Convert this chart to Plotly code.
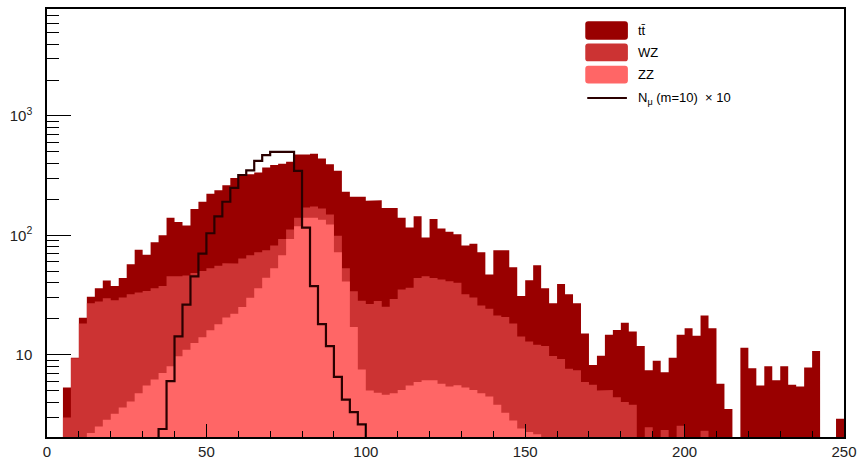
import numpy as np
import plotly.graph_objects as go

# ---------------- data ----------------
x_range = [0.0, 250.0]
bin_width = 2.5

# cumulative stack heights per 2.5-wide bin (0 .. 250)
tt_stack = [
    0, 0, 5.3, 9.4, 20.4, 30.5, 35.9, 41.7, 37.5, 43.9,
    57.1, 75.7, 68.8, 87.3, 100, 140, 129, 121, 166, 191,
    223, 238, 262, 302, 315, 325, 335, 369, 388, 398,
    413, 474, 474, 481, 440, 393, 347, 231, 210, 210,
    195, 197, 169, 169, 140, 116, 144, 96, 137, 114,
    107, 102, 82, 85, 72, 47, 75, 75, 54, 31,
    42, 56, 36, 27, 39, 32, 27, 15, 8.2, 9.8,
    14.7, 16.1, 18.5, 15.6, 11.8, 7.4, 8.9, 7.1, 9.4, 14.7,
    16.6, 14.4, 21.3, 16.6, 5.7, 3.5, 0, 11.4, 7.7, 5.5,
    8.0, 6.1, 8.0, 5.6, 5.4, 7.8, 10.7, 0, 0, 2.9,
]
wz_stack = [
    0, 0, 2.97, 9.3, 18.2, 26.9, 27.9, 29.7, 28.6, 30.1,
    32.1, 33.1, 34.1, 35.9, 37.5, 45.3, 45.3, 46.1, 48.2, 50.3,
    53, 55.6, 58.2, 58, 64, 68, 72, 75, 82, 93,
    112, 140, 171, 174, 168, 149, 99, 53, 34, 28.3,
    26.6, 28.2, 25.2, 29.2, 35.2, 36.4, 43.9, 45.3, 43.9, 42.6,
    41.2, 40, 32.1, 30.1, 25.8, 24.2, 21.3, 20.7, 18.2, 14.2,
    12.9, 12.1, 11.8, 9.75, 9.2, 7.6, 7.4, 5.9, 5.6, 5.0,
    5.05, 4.4, 4.0, 3.8, 0, 2.46, 0, 2.34, 0, 2.54,
    0, 0, 2.3, 0, 0, 0, 0, 0, 0, 0,
    0, 0, 0, 0, 0, 0, 0, 0, 0, 0,
]
zz_stack = [
    0, 0, 0, 0, 0, 2.2, 2.5, 2.85, 3.2, 3.6,
    4.05, 4.75, 5.5, 6.2, 7.0, 8.0, 9.7, 11, 12.5, 14,
    16, 18, 20.5, 22, 25, 30, 36, 44, 53, 68,
    93, 119, 140, 140, 135, 123, 72, 41, 17, 7.5,
    5.0, 4.8, 4.6, 4.75, 5.05, 5.5, 5.9, 6.1, 6.1, 5.7,
    5.4, 5.55, 5.3, 5.05, 4.75, 4.45, 3.8, 3.25, 2.8, 2.4,
    2.25, 2.15, 0, 0, 0, 0, 0, 0, 0, 0,
    0, 0, 0, 0, 0, 0, 0, 0, 0, 0,
    0, 0, 0, 0, 0, 0, 0, 0, 0, 0,
    0, 0, 0, 0, 0, 0, 0, 0, 0, 0,
]
signal_x10 = [
    0, 0, 0, 0, 0, 0, 0, 0, 0, 0,
    0, 0, 0, 0, 2.38, 6.0, 14.2, 26.2, 45.3, 70.2,
    104, 144, 191, 250, 320, 350, 420, 470, 500, 500,
    500, 347, 116, 37.5, 18, 11.8, 6.5, 4.2, 3.3, 2.6,
    0, 0, 0, 0, 0, 0, 0, 0, 0, 0,
    0, 0, 0, 0, 0, 0, 0, 0, 0, 0,
    0, 0, 0, 0, 0, 0, 0, 0, 0, 0,
    0, 0, 0, 0, 0, 0, 0, 0, 0, 0,
    0, 0, 0, 0, 0, 0, 0, 0, 0, 0,
    0, 0, 0, 0, 0, 0, 0, 0, 0, 0,
]
legend_labels = ["t\u0074\u0304", "WZ", "ZZ", "N<sub>\u03bc</sub> (m=10) \u00a0\u00d7 10"]

x_ticks = [0, 50, 100, 150, 200, 250]
x_minor = [10, 20, 30, 40, 60, 70, 80, 90, 110, 120, 130, 140,
           160, 170, 180, 190, 210, 220, 230, 240]
y_ticks = [10, 100, 1000]
y_ticktext = ["10", "10<sup>2</sup>", "10<sup>3</sup>"]
y_minor = [3, 4, 5, 6, 7, 8, 9, 20, 30, 40, 50, 60, 70, 80, 90,
           200, 300, 400, 500, 600, 700, 800, 900,
           2000, 3000, 4000, 5000, 6000, 7000]

# ---------------- style ----------------
DARK = "#990000"
MID = "#cc3333"
LIGHT = "#ff6666"
LINE = "#2a0000"
FONT = "Liberation Sans, Arial, Helvetica, sans-serif"

W, H = 864, 467
ML, MR, MT, MB = 47, 13, 7, 20
PW, PH = W - ML - MR, H - MT - MB
FLOOR = 1e-3  # below the visible log range; clipped away

edges = np.arange(x_range[0], x_range[1] + bin_width / 2, bin_width)


def step_outline(vals, closed):
    v = np.array(vals, dtype=float)
    v = np.where(v > 0, v, FLOOR)
    xs, ys = [edges[0]], [FLOOR]
    for i, val in enumerate(v):
        xs += [edges[i], edges[i + 1]]
        ys += [val, val]
    xs.append(edges[-1])
    ys.append(FLOOR)
    if closed:
        xs.append(edges[0])
        ys.append(FLOOR)
    return xs, ys


fig = go.Figure()
for vals, col in [(tt_stack, DARK), (wz_stack, MID), (zz_stack, LIGHT)]:
    xs, ys = step_outline(vals, True)
    fig.add_trace(go.Scatter(
        x=xs, y=ys, mode="lines", fill="toself", fillcolor=col,
        line=dict(width=0, color=col), showlegend=False, hoverinfo="skip"))

xs, ys = step_outline(signal_x10, False)
fig.add_trace(go.Scatter(
    x=xs, y=ys, mode="lines", line=dict(color=LINE, width=2.2),
    showlegend=False, hoverinfo="skip"))


def px2paper(px, py):
    return (px - ML) / PW, (H - MB - py) / PH


def rounded_rect(x0p, y0p, x1p, y1p, r=3):
    a0, b0 = px2paper(x0p, y1p)
    a1, b1 = px2paper(x1p, y0p)
    rx, ry = r / PW, r / PH
    return (f"M {a0+rx},{b0} L {a1-rx},{b0} Q {a1},{b0} {a1},{b0+ry} "
            f"L {a1},{b1-ry} Q {a1},{b1} {a1-rx},{b1} L {a0+rx},{b1} "
            f"Q {a0},{b1} {a0},{b1-ry} L {a0},{b0+ry} Q {a0},{b0} {a0+rx},{b0} Z")


shapes = []
annotations = []
box_x0, box_x1 = 590, 633
rows = [(19.5, 38.5), (42.5, 60.8), (65.3, 83.5)]
for (y0, y1), col, lab in zip(rows, [DARK, MID, LIGHT], legend_labels[:3]):
    shapes.append(dict(type="path", xref="paper", yref="paper",
                       path=rounded_rect(box_x0, y0, box_x1, y1),
                       fillcolor=col, line=dict(width=0)))
    ax, ay = px2paper(641, (y0 + y1) / 2)
    annotations.append(dict(xref="paper", yref="paper", x=ax, y=ay, text=lab,
                            xanchor="left", yanchor="middle", showarrow=False,
                            font=dict(size=13, color="black", family=FONT)))
lx0, ly = px2paper(592, 98.5)
lx1, _ = px2paper(632, 98.5)
shapes.append(dict(type="line", xref="paper", yref="paper", x0=lx0, x1=lx1,
                   y0=ly, y1=ly, line=dict(color=LINE, width=2)))
ax, ay = px2paper(641, 98.5)
annotations.append(dict(xref="paper", yref="paper", x=ax, y=ay, text=legend_labels[3],
                        xanchor="left", yanchor="middle", showarrow=False,
                        font=dict(size=13, color="black", family=FONT)))

fig.update_layout(
    width=W, height=H, margin=dict(l=ML, r=MR, t=MT, b=MB),
    plot_bgcolor="white", paper_bgcolor="white",
    font=dict(family=FONT, size=15, color="#222"),
    shapes=shapes, annotations=annotations, showlegend=False,
)
fig.update_xaxes(
    range=x_range, tickvals=x_ticks, ticks="inside", ticklen=13, tickwidth=1,
    tickcolor="black", showline=True, linecolor="black", linewidth=1.5,
    mirror=True, showgrid=False, zeroline=False,
    minor=dict(tickvals=x_minor, ticks="inside", ticklen=6, tickcolor="black",
               tickwidth=1, showgrid=False),
)
fig.update_yaxes(
    type="log", range=[np.log10(2.04), np.log10(7870)],
    tickvals=y_ticks, ticktext=y_ticktext, ticks="inside", ticklen=24,
    tickwidth=1, tickcolor="black", showline=True, linecolor="black",
    linewidth=1.5, mirror=True, showgrid=False, zeroline=False,
    ticklabelstandoff=10,
    minor=dict(tickvals=y_minor, ticks="inside", ticklen=12, tickcolor="black",
               tickwidth=1, showgrid=False),
)

fig.write_html("out.html")
